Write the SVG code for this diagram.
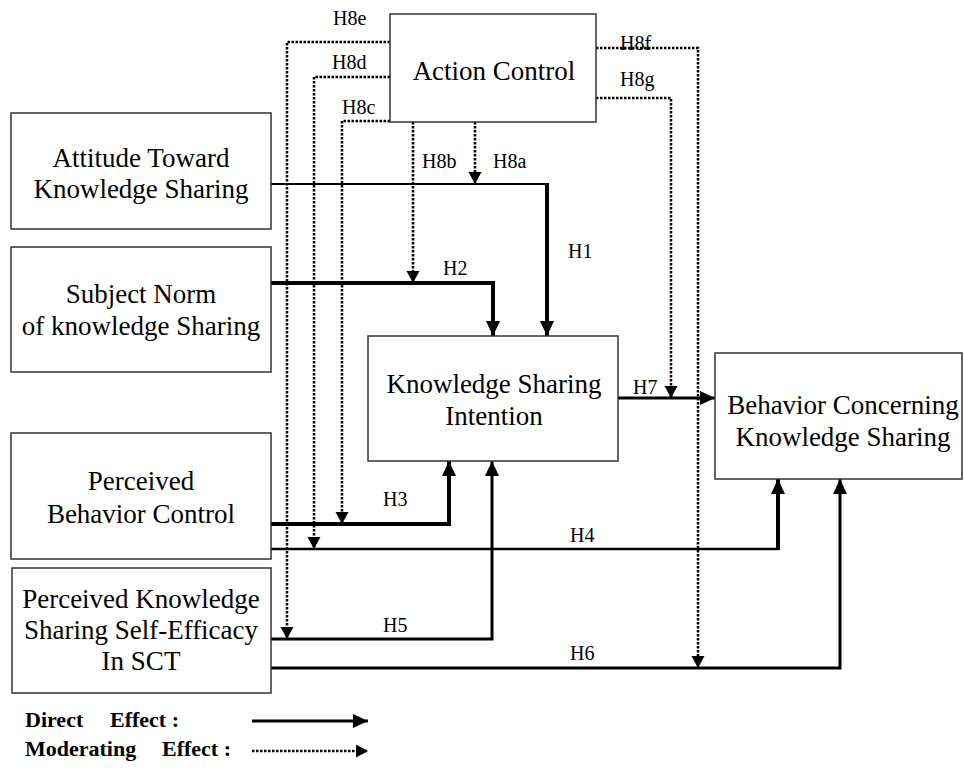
<svg xmlns="http://www.w3.org/2000/svg" width="964" height="775" viewBox="0 0 964 775" font-family="'Liberation Serif', 'Times New Roman', serif">
<style>
  .box{fill:#fff;stroke:#333;stroke-width:1.5}
  text{font-family:'Liberation Serif','Times New Roman',serif}
  .nt{font-size:27px;fill:#000;text-anchor:middle}
  .lb{font-size:20px;fill:#000}
  .lg{font-size:22px;font-weight:bold;fill:#000}
  .s{fill:none;stroke:#000}
  .d{fill:none;stroke:#000;stroke-width:2.5;stroke-dasharray:2.5 1.5}
</style>
<defs>
  <marker id="ah" markerUnits="userSpaceOnUse" markerWidth="16" markerHeight="16" refX="15" refY="7" orient="auto">
    <path d="M0,0 L15,7 L0,14 z" fill="#000"/>
  </marker>
  <marker id="ahd" markerUnits="userSpaceOnUse" markerWidth="14" markerHeight="14" refX="12" refY="6.5" orient="auto">
    <path d="M0,0 L12,6.5 L0,13 z" fill="#000"/>
  </marker>
</defs>
<rect width="964" height="775" fill="#fff"/>

<g id="connectors">
  <path class="s" stroke-width="2" d="M271,184 H547"/>
  <path class="s" stroke-width="4" d="M547,183 V336" marker-end="url(#ah)"/>
  <path class="s" stroke-width="4" d="M271,283 H493 V336" marker-end="url(#ah)"/>
  <path class="s" stroke-width="4" d="M271,524 H449 V461" marker-end="url(#ah)"/>
  <path class="s" stroke-width="2.5" d="M271,549 H778"/>
  <path class="s" stroke-width="4" d="M778,550 V479" marker-end="url(#ah)"/>
  <path class="s" stroke-width="3" d="M271,639 H492 V461" marker-end="url(#ah)"/>
  <path class="s" stroke-width="3" d="M271,668 H840 V479" marker-end="url(#ah)"/>
  <path class="s" stroke-width="3" d="M618,398 H715" marker-end="url(#ah)"/>
  <path class="d" d="M475,122 V184" marker-end="url(#ahd)"/>
  <path class="d" d="M413,122 V283" marker-end="url(#ahd)"/>
  <path class="d" d="M390,121 H342 V524" marker-end="url(#ahd)"/>
  <path class="d" d="M390,77 H314 V549" marker-end="url(#ahd)"/>
  <path class="d" d="M390,42 H287 V639" marker-end="url(#ahd)"/>
  <path class="d" stroke-width="2" d="M596,48 H698 V668" marker-end="url(#ahd)"/>
  <path class="d" d="M596,98 H671 V398" marker-end="url(#ahd)"/>
  <text class="lb" x="568" y="258">H1</text>
  <text class="lb" x="443" y="275">H2</text>
  <text class="lb" x="383" y="506">H3</text>
  <text class="lb" x="570" y="542">H4</text>
  <text class="lb" x="383" y="632">H5</text>
  <text class="lb" x="570" y="660">H6</text>
  <text class="lb" x="633" y="394">H7</text>
  <text class="lb" x="493" y="168">H8a</text>
  <text class="lb" x="422" y="168">H8b</text>
  <text class="lb" x="342" y="114">H8c</text>
  <text class="lb" x="332" y="69">H8d</text>
  <text class="lb" x="333" y="25">H8e</text>
  <text class="lb" x="620" y="50">H8f</text>
  <text class="lb" x="620" y="86">H8g</text>
</g>

<g id="action-control">
  <rect class="box" x="390" y="14" width="206" height="108"/>
  <text class="nt" x="494" y="80">Action Control</text>
</g>
<g id="attitude">
  <rect class="box" x="11" y="113" width="260" height="116"/>
  <text class="nt" x="141" y="167">Attitude Toward</text>
  <text class="nt" x="141" y="198">Knowledge Sharing</text>
</g>
<g id="subject-norm">
  <rect class="box" x="11" y="247" width="260" height="125"/>
  <text class="nt" x="141" y="303">Subject Norm</text>
  <text class="nt" x="141" y="335">of knowledge Sharing</text>
</g>
<g id="pbc">
  <rect class="box" x="11" y="433" width="260" height="126"/>
  <text class="nt" x="141" y="490">Perceived</text>
  <text class="nt" x="141" y="523">Behavior Control</text>
</g>
<g id="pkse">
  <rect class="box" x="12" y="568" width="259" height="125"/>
  <text class="nt" x="141" y="608">Perceived Knowledge</text>
  <text class="nt" x="141" y="639">Sharing Self-Efficacy</text>
  <text class="nt" x="141" y="670">In SCT</text>
</g>
<g id="ksi">
  <rect class="box" x="368" y="336" width="250" height="125"/>
  <text class="nt" x="494" y="393">Knowledge Sharing</text>
  <text class="nt" x="494" y="425">Intention</text>
</g>
<g id="bcks">
  <rect class="box" x="715" y="353" width="247" height="126"/>
  <text class="nt" x="843" y="414">Behavior Concerning</text>
  <text class="nt" x="843" y="446">Knowledge Sharing</text>
</g>

<g id="legend">
  <text class="lg" x="25" y="727">Direct<tspan x="110">Effect :</tspan></text>
  <path class="s" stroke-width="3" d="M252,721 H368" marker-end="url(#ah)"/>
  <text class="lg" x="25" y="756">Moderating<tspan x="162">Effect :</tspan></text>
  <path class="d" stroke-width="2" d="M252,751 H368" marker-end="url(#ahd)"/>
</g>
</svg>
